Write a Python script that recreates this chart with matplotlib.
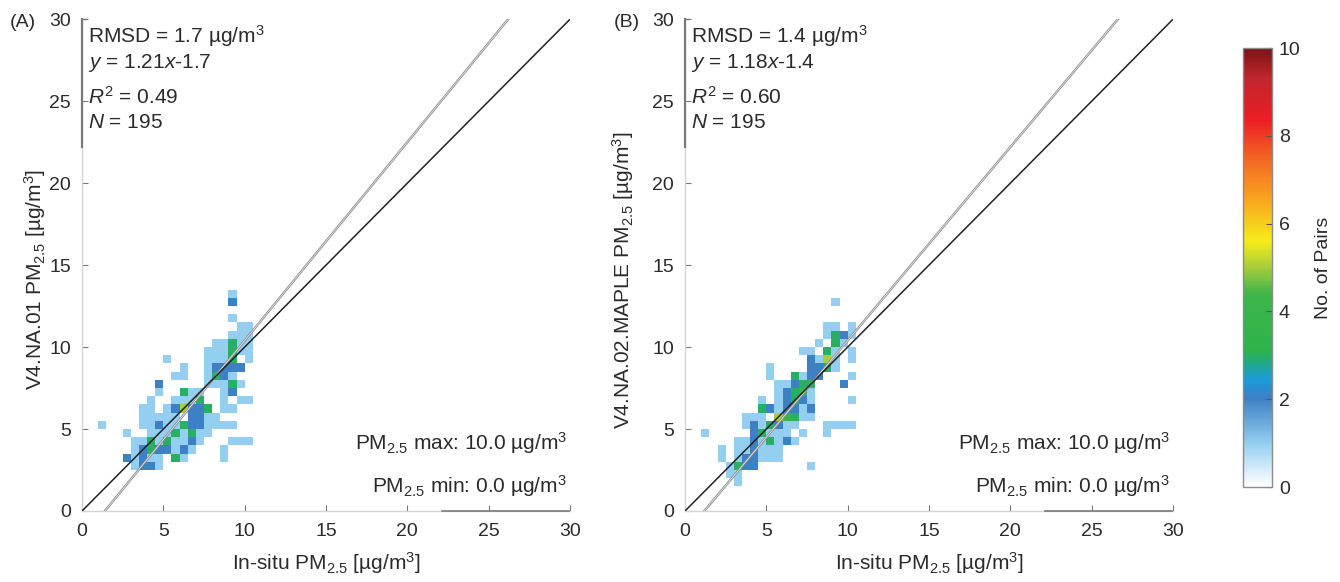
import numpy as np
import matplotlib
matplotlib.use("Agg")
import matplotlib.pyplot as plt
from matplotlib.colors import LinearSegmentedColormap

plt.rcParams['font.family'] = ['Liberation Sans', 'DejaVu Sans']
plt.rcParams['mathtext.fontset'] = 'custom'
plt.rcParams['mathtext.rm'] = 'Liberation Sans'
plt.rcParams['mathtext.it'] = 'Liberation Sans:italic'
plt.rcParams['font.size'] = 12

# ── Data: 0.5 ug/m3 bins, counts of pairs per cell ───────────────────────────
# Panel A (V4.NA.01): one row per y-bin centre, x-bin centres and counts
a_row_y = [13.25, 12.75, 11.75, 11.25, 10.75, 10.25, 9.75, 9.25, 8.75, 8.25,
           7.75, 7.25, 6.75, 6.25, 5.75, 5.25, 4.75, 4.25, 3.75, 3.25, 2.75]
a_row_x = [
    [9.25],
    [9.25],
    [9.25],
    [9.75, 10.25],
    [9.25, 9.75, 10.25],
    [8.25, 8.75, 9.25, 9.75, 10.25],
    [7.75, 8.25, 8.75, 9.25, 9.75, 10.25],
    [5.25, 7.75, 8.25, 8.75, 9.25, 10.25],
    [6.25, 7.75, 8.25, 8.75, 9.25, 9.75],
    [5.75, 6.25, 7.75, 8.25, 8.75, 9.25],
    [4.75, 7.75, 8.25, 8.75, 9.25, 9.75],
    [4.75, 6.25, 6.75, 7.25, 8.75, 9.25],
    [4.25, 5.75, 6.25, 6.75, 7.25, 8.75, 9.75, 10.25],
    [3.75, 4.25, 5.25, 5.75, 6.25, 6.75, 7.25, 7.75, 8.75, 9.25],
    [3.75, 4.25, 4.75, 5.25, 5.75, 6.75, 7.25, 7.75, 8.25],
    [1.25, 3.75, 4.25, 4.75, 5.25, 5.75, 6.25, 6.75, 7.25, 7.75, 8.25, 8.75,
     9.25],
    [2.75, 4.25, 4.75, 5.25, 5.75, 6.25, 6.75, 7.25, 7.75],
    [3.25, 3.75, 4.25, 4.75, 5.25, 5.75, 6.25, 6.75, 7.25, 9.25, 9.75, 10.25],
    [3.25, 3.75, 4.25, 4.75, 5.25, 5.75, 6.25, 6.75, 8.75],
    [2.75, 3.25, 3.75, 4.25, 4.75, 5.75, 6.25, 8.75],
    [3.25, 3.75, 4.25, 4.75],
]
a_row_n = [
    [1],
    [2],
    [1],
    [1, 1],
    [1, 1, 1],
    [1, 1, 3, 1, 1],
    [1, 1, 1, 3, 1, 1],
    [1, 1, 1, 1, 3, 1],
    [1, 1, 2, 2, 2, 2],
    [1, 1, 1, 3, 2, 1],
    [2, 1, 1, 1, 3, 1],
    [1, 3, 1, 1, 1, 2],
    [1, 1, 1, 1, 3, 1, 1, 1],
    [1, 1, 1, 2, 5, 2, 2, 3, 1, 1],
    [1, 1, 1, 1, 1, 2, 2, 1, 1],
    [1, 1, 1, 2, 1, 1, 3, 2, 2, 1, 1, 1, 1],
    [1, 1, 1, 1, 3, 1, 3, 1, 1],
    [1, 1, 3, 1, 3, 1, 1, 2, 1, 1, 1, 1],
    [1, 2, 3, 2, 2, 1, 2, 1, 1],
    [2, 1, 2, 1, 1, 3, 1, 1],
    [1, 2, 2, 1],
]

# Panel B (V4.NA.02.MAPLE)
b_row_y = [12.75, 11.25, 10.75, 10.25, 9.75, 9.25, 8.75, 8.25, 7.75, 7.25,
           6.75, 6.25, 5.75, 5.25, 4.75, 4.25, 3.75, 3.25, 2.75, 2.25, 1.75]
b_row_x = [
    [9.25],
    [8.75, 9.25, 10.25],
    [8.75, 9.25, 9.75, 10.25],
    [8.25, 9.25, 9.75],
    [7.25, 7.75, 8.75, 9.25, 10.25],
    [7.75, 8.25, 8.75, 9.25, 10.25],
    [5.25, 7.75, 8.25, 8.75, 9.25],
    [5.25, 6.75, 7.25, 7.75, 8.25, 10.25],
    [5.75, 6.25, 6.75, 7.25, 7.75, 9.75],
    [5.75, 6.25, 6.75, 7.25, 7.75],
    [4.75, 5.75, 6.25, 6.75, 7.25, 7.75, 10.25],
    [4.75, 5.25, 5.75, 6.25, 6.75, 7.25, 7.75],
    [3.75, 4.25, 4.75, 5.75, 6.25, 6.75, 7.25, 7.75],
    [3.75, 4.25, 4.75, 5.25, 5.75, 6.25, 6.75, 8.75, 9.25, 9.75, 10.25],
    [1.25, 4.25, 4.75, 5.25, 5.75, 6.25, 7.25, 8.75],
    [3.25, 3.75, 4.25, 4.75, 5.25, 5.75, 6.25, 6.75],
    [2.25, 3.25, 3.75, 4.25, 4.75, 5.25, 5.75],
    [2.25, 3.25, 3.75, 4.25, 4.75, 5.25, 5.75],
    [2.75, 3.25, 3.75, 4.25, 7.75],
    [2.75, 3.25],
    [3.25],
]
b_row_n = [
    [1],
    [1, 1, 1],
    [1, 3, 2, 1],
    [1, 3, 1],
    [1, 1, 3, 1, 1],
    [2, 1, 5, 1, 1],
    [1, 2, 2, 3, 1],
    [1, 3, 1, 2, 2, 1],
    [1, 1, 2, 3, 3, 2],
    [1, 2, 3, 4, 1],
    [1, 1, 2, 3, 2, 1, 1],
    [3, 2, 1, 2, 2, 1, 2],
    [1, 1, 1, 5, 4, 3, 1, 1],
    [1, 2, 1, 3, 2, 1, 1, 1, 1, 1, 1],
    [1, 2, 3, 1, 1, 1, 1, 1],
    [1, 1, 2, 1, 3, 1, 2, 1],
    [1, 1, 1, 2, 1, 1, 1],
    [1, 1, 2, 2, 1, 1, 1],
    [1, 3, 2, 2, 1],
    [1, 1],
    [1],
]

panels = [
    dict(tag='(A)', rows=(a_row_y, a_row_x, a_row_n), slope=1.21, icpt=-1.7,
         rmsd='1.7', r2='0.49', n='195', ylabel='V4.NA.01 PM$_{2.5}$ [µg/m$^3$]',
         left=0.0612, lab_x=-0.070, tag_x=0.0172),
    dict(tag='(B)', rows=(b_row_y, b_row_x, b_row_n), slope=1.18, icpt=-1.4,
         rmsd='1.4', r2='0.60', n='195',
         ylabel='V4.NA.02.MAPLE PM$_{2.5}$ [µg/m$^3$]',
         left=0.5112, lab_x=-0.100, tag_x=0.468),
]

cmap = LinearSegmentedColormap.from_list('pairs', [
    (0.00, '#ffffff'), (0.10, '#92cdf0'), (0.20, '#3e80c4'),
    (0.245, '#1b9bd7'), (0.28, '#1fa88a'), (0.31, '#2db34a'),
    (0.44, '#3fb54a'), (0.50, '#a6cc3c'), (0.56, '#f7ec1b'),
    (0.65, '#f8a91f'), (0.75, '#f26524'), (0.84, '#ec1c24'),
    (0.93, '#c1272d'), (1.00, '#7d1416')])

TXT = '#2b2b2b'
edges = np.arange(0, 30.01, 0.5)

fig = plt.figure(figsize=(13.4, 5.82), dpi=100)

for p in panels:
    ax = fig.add_axes([p['left'], 0.122, 0.3642, 0.845])
    ry, rx, rn = p['rows']
    xs = np.concatenate([np.array(x, float) for x in rx])
    ys = np.concatenate([np.full(len(x), y) for y, x in zip(ry, rx)])
    ws = np.concatenate([np.array(n, float) for n in rn])
    h = ax.hist2d(xs, ys, bins=[edges, edges], weights=ws, cmap=cmap,
                  vmin=0, vmax=10, cmin=0.5)

    # 1:1 line and fitted regression line
    ax.plot([0, 30], [0, 30], color='#222222', lw=1.1, zorder=4)
    fx = np.array([-p['icpt'] / p['slope'], (30 - p['icpt']) / p['slope']])
    ax.plot(fx, p['slope'] * fx + p['icpt'], color='#8a8a8a', lw=1.7, zorder=3)
    ax.plot(fx, p['slope'] * fx + p['icpt'], color='#f2f2f2', lw=0.5, zorder=3)

    ax.set_xlim(0, 30)
    ax.set_ylim(0, 30)
    ax.set_xticks(range(0, 31, 5))
    ax.set_yticks(range(0, 31, 5))
    for s in ('top', 'right'):
        ax.spines[s].set_visible(False)
    for s in ('left', 'bottom'):
        ax.spines[s].set_color('#d4d4d4')
        ax.spines[s].set_linewidth(1.0)
    ax.tick_params(direction='in', length=4, width=0.8, color='#777777',
                   labelsize=14, labelcolor=TXT)
    ax.tick_params(axis='x', pad=9)
    ax.tick_params(axis='y', pad=8)

    # darker brackets of the annotation boxes along the axes
    ax.plot([0, 0], [22.2, 30], color='#7a7a7a', lw=1.6, clip_on=False, zorder=5)
    ax.plot([0, 0.25], [30, 30], color='#7a7a7a', lw=1.0, clip_on=False, zorder=5)
    ax.plot([22.1, 29.95], [0, 0], color='#7a7a7a', lw=1.2, clip_on=False, zorder=5)

    ax.text(0.37, 28.95, 'RMSD = %s µg/m$^3$' % p['rmsd'], color=TXT,
            fontsize=15, va='center')
    ax.text(0.37, 27.35, '$y$ = %.2f$x$%.1f' % (p['slope'], p['icpt']),
            color=TXT, fontsize=15, va='center')
    ax.text(0.37, 25.25, '$R^2$ = %s' % p['r2'], color=TXT, fontsize=15,
            va='center')
    ax.text(0.37, 23.7, '$N$ = %s' % p['n'], color=TXT, fontsize=15,
            va='center')

    ax.text(29.8, 4.15, 'PM$_{2.5}$ max: 10.0 µg/m$^3$', color=TXT,
            fontsize=15, ha='right', va='center')
    ax.text(29.8, 1.55, 'PM$_{2.5}$ min: 0.0 µg/m$^3$', color=TXT,
            fontsize=15, ha='right', va='center')

    ax.set_xlabel('In-situ PM$_{2.5}$ [µg/m$^3$]', fontsize=15, color=TXT)
    ax.xaxis.set_label_coords(0.5, -0.08)
    ax.set_ylabel(p['ylabel'], fontsize=15, color=TXT)
    ax.yaxis.set_label_coords(p['lab_x'], 0.47)

    fig.text(p['tag_x'], 0.962, p['tag'], fontsize=14, color=TXT,
             ha='center', va='center')

cax = fig.add_axes([0.9276, 0.163, 0.0216, 0.7545])
cb = fig.colorbar(h[3], cax=cax, ticks=range(0, 11, 2))
cb.outline.set_edgecolor('#8a8a8a')
cb.outline.set_linewidth(1.0)
cax.tick_params(direction='in', length=4, width=0.8, color='#555555',
                labelsize=14, labelcolor=TXT, pad=5)
cb.set_label('No. of Pairs', fontsize=14, color=TXT, labelpad=10)

fig.savefig('out.png', dpi=100)
